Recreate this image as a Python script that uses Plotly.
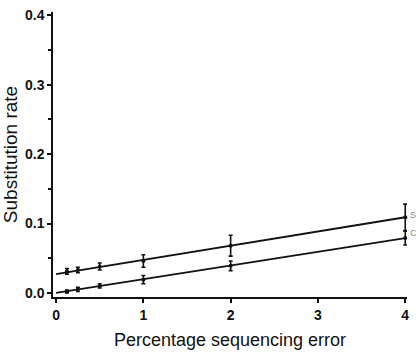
import plotly.graph_objects as go

x_err = [0.125, 0.25, 0.5, 1, 2, 4]
upper_vals = [0.031, 0.033, 0.038, 0.046, 0.068, 0.109]
upper_err = [0.004, 0.004, 0.005, 0.009, 0.015, 0.019]
lower_vals = [0.002, 0.005, 0.010, 0.019, 0.039, 0.079]
lower_err = [0.002, 0.003, 0.003, 0.006, 0.007, 0.010]
fit_x = [0, 4]
upper_fit = [0.027, 0.109]
lower_fit = [0.0, 0.079]
x_ticks = [0, 1, 2, 3, 4]
y_ticks = [0.0, 0.1, 0.2, 0.3, 0.4]
y_tick_labels = ["0.0", "0.1", "0.2", "0.3", "0.4"]

ink = "#111111"
fig = go.Figure()
for fy in (upper_fit, lower_fit):
    fig.add_trace(go.Scatter(x=fit_x, y=fy, mode="lines",
                             line=dict(color=ink, width=1.8), showlegend=False, hoverinfo="skip"))
for vals, errs in ((upper_vals, upper_err), (lower_vals, lower_err)):
    fig.add_trace(go.Scatter(x=x_err, y=vals, mode="markers",
                             marker=dict(color=ink, size=4, symbol="circle"),
                             error_y=dict(type="data", array=errs, visible=True,
                                          color=ink, thickness=1.6, width=2),
                             showlegend=False, cliponaxis=False))

fig.add_annotation(x=1, y=0.112, xref="paper", yref="y", text="S", showarrow=False,
                   xanchor="left", xshift=1, font=dict(size=9, color="#888888", family="Liberation Sans"))
fig.add_annotation(x=1, y=0.086, xref="paper", yref="y", text="C", showarrow=False,
                   xanchor="left", xshift=1, font=dict(size=9, color="#888888", family="Liberation Sans"))

fig.update_layout(
    width=416, height=354,
    margin=dict(l=53, r=7, t=12, b=57),
    paper_bgcolor="white", plot_bgcolor="white",
    font=dict(family="Liberation Sans, Arial, sans-serif", color=ink),
    xaxis=dict(range=[-0.035, 4.02], tickvals=x_ticks, ticktext=[str(v) for v in x_ticks],
               showgrid=False, zeroline=False, showline=True, linecolor=ink, linewidth=1.5,
               ticks="outside", ticklen=4, tickcolor=ink, tickwidth=1.5,
               tickfont=dict(size=14, family="Liberation Sans, Arial", weight="bold"),
               title=dict(text="Percentage sequencing error", font=dict(size=18), standoff=12)),
    yaxis=dict(range=[-0.006, 0.405], tickvals=y_ticks, ticktext=y_tick_labels,
               showgrid=False, zeroline=False, showline=True, linecolor=ink, linewidth=1.5,
               ticks="outside", ticklen=4, tickcolor=ink, tickwidth=1.5,
               tickfont=dict(size=14, family="Liberation Sans, Arial", weight="bold"),
               minor=dict(dtick=0.05, ticks="outside", ticklen=3, tickcolor=ink, showgrid=False),
               title=dict(text="Substitution rate", font=dict(size=19), standoff=3)),
)
fig.write_html("out.html")
